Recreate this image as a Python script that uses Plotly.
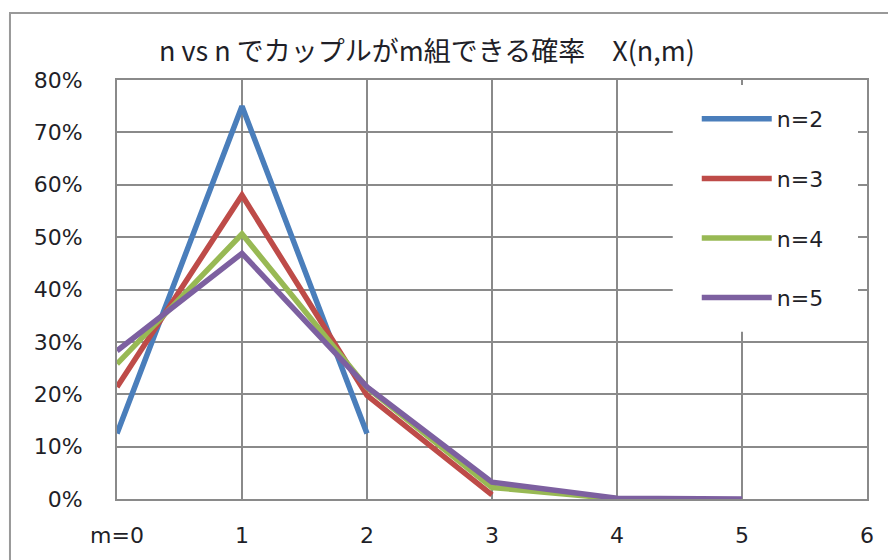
import plotly.graph_objects as go

m_vals = [0, 1, 2, 3, 4, 5]
x_ticktext = ["m=0", "1", "2", "3", "4", "5", "6"]
y_ticks = [0, 0.1, 0.2, 0.3, 0.4, 0.5, 0.6, 0.7, 0.8]
y_ticktext = ["0%", "10%", "20%", "30%", "40%", "50%", "60%", "70%", "80%"]

n2 = [0.125, 0.75, 0.125]
n3 = [0.214, 0.580, 0.198, 0.008]
n4 = [0.258, 0.506, 0.213, 0.022, 0.0004]
n5 = [0.283, 0.469, 0.214, 0.032, 0.0015, 0.00001]

series = [("n=2", n2, "#4A7EBB"), ("n=3", n3, "#BE4B48"),
          ("n=4", n4, "#98B954"), ("n=5", n5, "#7D60A0")]

title_text = "n vs n でカップルがm組できる確率　X(n,m)"

fig = go.Figure()
for i, (name, vals, col) in enumerate(series):
    fig.add_trace(go.Scatter(x=m_vals[:len(vals)], y=vals, mode="lines", name=name,
                             line=dict(color=col, width=5.5), legendgroup=str(i)))

grid = "#8A8A8A"
txt = "#1F1F28"
font_tick = "DejaVu Sans, sans-serif"
font_title = "Noto Sans CJK JP, sans-serif"
fig.update_layout(
    width=896, height=560,
    margin=dict(l=109, r=37, t=72, b=69),
    paper_bgcolor="white", plot_bgcolor="white",
    font=dict(family=font_tick, size=22, color=txt),
    showlegend=True,
    legend=dict(x=0.773, y=0.957, xanchor="left", yanchor="top",
                bgcolor="rgba(255,255,255,0)", borderwidth=0, tracegroupgap=28,
                itemwidth=70, font=dict(family=font_tick, size=22, color=txt)),
    xaxis=dict(range=[0, 6], tickmode="array", tickvals=list(range(7)), ticktext=x_ticktext,
               showgrid=True, gridcolor=grid, gridwidth=2, showline=True, linecolor=grid,
               linewidth=2, mirror=True, zeroline=False, ticks="", ticklabelstandoff=16,
               tickfont=dict(size=22)),
    yaxis=dict(range=[0, 0.8], tickmode="array", tickvals=y_ticks, ticktext=y_ticktext,
               showgrid=True, gridcolor=grid, gridwidth=2, showline=True, linecolor=grid,
               linewidth=2, mirror=True, zeroline=False, ticks="", ticklabelstandoff=28,
               tickfont=dict(size=22)),
    annotations=[dict(text=title_text, x=0.413, y=1.072, xref="paper", yref="paper",
                      showarrow=False, xanchor="center", yanchor="middle",
                      font=dict(family=font_title, size=27, color=txt))],
    shapes=[
        dict(type="rect", xref="paper", yref="paper", x0=-0.1427, x1=1.2,
             y0=-0.3, y1=1.16, line=dict(color="#999999", width=2), layer="below"),
        dict(type="rect", xref="paper", yref="paper", x0=0.741, x1=0.988,
             y0=0.399, y1=0.988, line=dict(width=0), fillcolor="white", layer="above"),
    ],
)

fig.write_html("out.html")
